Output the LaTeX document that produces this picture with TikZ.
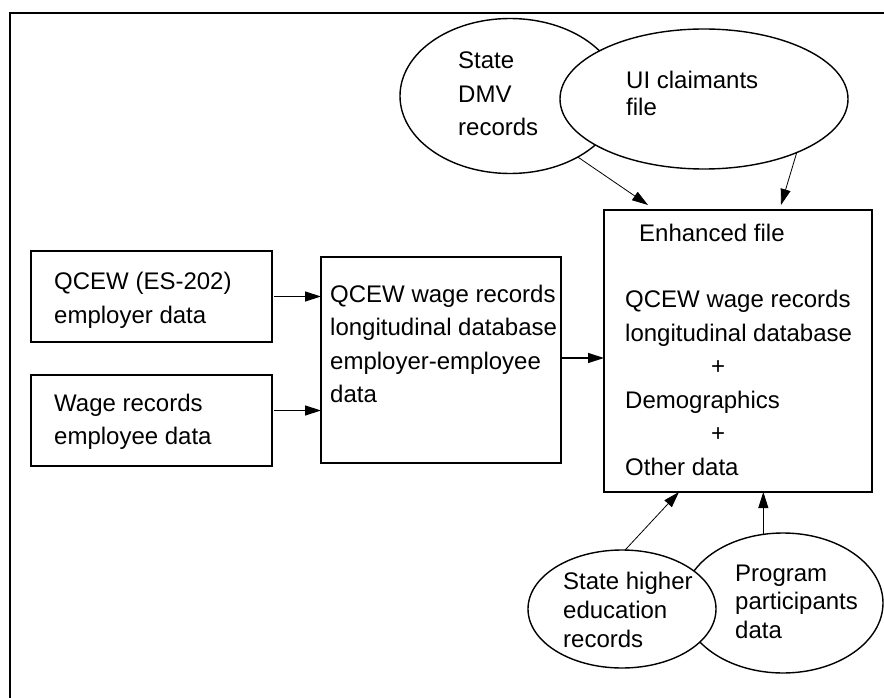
\documentclass[tikz,border=0pt]{standalone}
\usepackage{fontspec}
\setmainfont{Liberation Sans}
\usetikzlibrary{shapes.geometric,arrows.meta}
\begin{document}
\begin{tikzpicture}[x=1pt,y=-1pt,
  box/.style={draw, line width=1.5pt, inner sep=0pt, outer sep=0pt},
  oval/.style={ellipse, draw, fill=white, line width=1.4pt, inner sep=0pt, outer sep=0pt},
  txt/.style={anchor=west, align=left, inner sep=0pt, font=\fontsize{24}{33.5}\selectfont},
  arr/.style={-{Triangle[length=16pt,width=10pt]}, line width=0.8pt},
  harr/.style={-{Triangle[length=16pt,width=10pt]}, line width=1.3pt}
]
\useasboundingbox (0,0) rectangle (884,698);
% frame
\draw[line width=2pt] (884,13) -- (10,13) -- (10,698);

% boxes
\node[box, minimum width=241pt, minimum height=91pt] (qcew) at (151.5,296.5) {};
\node[box, minimum width=241pt, minimum height=91pt] (wage) at (151.5,420.5) {};
\node[box, minimum width=240pt, minimum height=206pt] (mid) at (441,360) {};
\node[box, minimum width=268pt, minimum height=282pt] (enh) at (738,351) {};

\node[txt] (tqcew) at (54,300.5) {QCEW (ES-202)\\employer data};
\node[txt] (twage) at (54,422) {Wage records\\employee data};
\node[txt] (tmid) at (330,344) {QCEW wage records\\longitudinal database\\employer-employee\\data};
\node[txt] (tenh1) at (639,233) {Enhanced file};
\node[txt] (tenh2) at (625,383) {QCEW wage records\\longitudinal database\\\hspace*{86pt}+\\Demographics\\\hspace*{86pt}+\\Other data};

% ellipses
\node[oval, minimum width=220pt, minimum height=155pt] (dmv) at (510,96) {};
\node[oval, minimum width=288pt, minimum height=140pt] (ui) at (704,99) {};
\node[oval, minimum width=200pt, minimum height=140pt] (prog) at (783,603) {};
\node[oval, minimum width=188pt, minimum height=118pt] (hed) at (622,609) {};

\node[txt] (tdmv) at (458,94) {State\\DMV\\records};
\node[txt, font=\fontsize{24}{27}\selectfont] (tui) at (626,93.5) {UI claimants\\file};
\node[txt, font=\fontsize{24}{28.5}\selectfont] (tprog) at (735,601.5) {Program\\participants\\data};
\node[txt, font=\fontsize{24}{29}\selectfont] (thed) at (563,610) {State higher\\education\\records};

% connectors
\draw[harr] ([xshift=2pt]qcew.east) -- (qcew.east -| mid.west);
\draw[harr] ([xshift=2pt,yshift=10pt]wage.east) -- ([yshift=10pt]wage.east -| mid.west);
\draw[harr] ([yshift=2pt]mid.east) -- ([yshift=2pt]mid.east -| enh.west);
\draw[arr] (dmv.-42) -- ([xshift=44pt,yshift=5pt]enh.north west);
\draw[arr] (ui.-30) -- ([xshift=177pt,yshift=5pt]enh.north west);
\draw[arr] (hed.87) -- ([xshift=75pt]enh.south west);
\draw[arr] (prog.106) -- (prog.106 |- enh.south);
\end{tikzpicture}
\end{document}
